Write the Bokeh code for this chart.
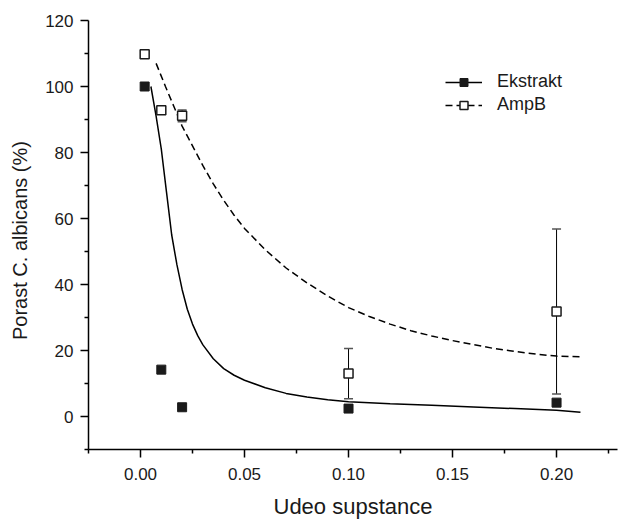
from bokeh.plotting import figure
from bokeh.models import (ColumnDataSource, Whisker, TeeHead, Legend,
                          LegendItem, FixedTicker, PrintfTickFormatter)
from bokeh.embed import file_html
from bokeh.resources import INLINE

# ---- data ----
ext_x = [0.002, 0.01, 0.02, 0.10, 0.20]
ext_y = [100.0, 14.2, 2.8, 2.4, 4.2]

amp_x = [0.002, 0.01, 0.02, 0.10, 0.20]
amp_y = [109.8, 92.8, 91.1, 13.0, 31.8]
amp_err = [0.9, 0.0, 1.8, 7.6, 25.0]

# fitted curves
fit_ext_x = [0.005, 0.0075, 0.01, 0.0125, 0.015, 0.0175, 0.02, 0.0225, 0.025,
             0.0275, 0.03, 0.035, 0.04, 0.045, 0.05, 0.06, 0.07, 0.08, 0.09,
             0.10, 0.12, 0.14, 0.16, 0.18, 0.20, 0.2115]
fit_ext_y = [100.0, 91.0, 81.0, 68.0, 55.0, 46.0, 38.5, 32.5, 28.0,
             24.5, 21.7, 17.5, 14.5, 12.5, 11.0, 8.7, 7.0, 5.9, 5.1,
             4.5, 3.9, 3.4, 2.9, 2.4, 1.9, 1.3]

fit_amp_x = [0.0075, 0.012, 0.016, 0.02, 0.025, 0.03, 0.035, 0.04, 0.045,
             0.05, 0.06, 0.07, 0.08, 0.09, 0.10, 0.11, 0.12, 0.13, 0.14,
             0.15, 0.16, 0.17, 0.18, 0.19, 0.20, 0.2115]
fit_amp_y = [107.0, 100.0, 94.0, 88.0, 82.0, 76.0, 70.5, 65.5, 61.0,
             57.0, 50.5, 45.0, 40.5, 36.5, 33.0, 30.3, 28.0, 26.0, 24.4,
             23.0, 21.8, 20.6, 19.7, 18.9, 18.3, 18.1]

x_ticks = [0.0, 0.05, 0.10, 0.15, 0.20]
x_minor = [-0.025, 0.025, 0.075, 0.125, 0.175, 0.225]
y_ticks = [0, 20, 40, 60, 80, 100, 120]
y_minor = [-10, 10, 30, 50, 70, 90, 110]

FONT = "Liberation Sans"
TXT = "#1a1a1a"

p = figure(width=618, height=521, x_range=(-0.025, 0.2293), y_range=(-10, 120),
           output_backend="svg", toolbar_location=None,
           min_border_left=88, min_border_right=1, min_border_top=20,
           min_border_bottom=69)
p.outline_line_color = None
p.xgrid.visible = False
p.ygrid.visible = False
p.background_fill_color = "white"

for ax in (p.xaxis[0], p.yaxis[0]):
    ax.axis_line_width = 1.5
    ax.axis_line_color = "black"
    ax.major_tick_line_width = 1.5
    ax.minor_tick_line_width = 1.5
    ax.major_tick_line_color = "black"
    ax.minor_tick_line_color = "black"
    ax.major_tick_in = 0
    ax.minor_tick_in = 0
    ax.major_tick_out = 8
    ax.minor_tick_out = 4
    ax.major_label_text_font = FONT
    ax.major_label_text_font_size = "17px"
    ax.major_label_text_color = TXT
    ax.axis_label_text_font = FONT
    ax.axis_label_text_font_style = "normal"
    ax.axis_label_text_color = TXT

p.xaxis.major_label_standoff = 10
p.yaxis.major_label_standoff = 7
p.xaxis.ticker = FixedTicker(ticks=x_ticks, minor_ticks=x_minor)
p.xaxis.formatter = PrintfTickFormatter(format="%.2f")
p.yaxis.ticker = FixedTicker(ticks=y_ticks, minor_ticks=y_minor)

p.xaxis.axis_label = "Udeo supstance"
p.xaxis.axis_label_text_font_size = "22px"
p.xaxis.axis_label_standoff = 11

p.yaxis.axis_label = "Porast  C. albicans  (%)"
p.yaxis.axis_label_text_font_size = "20px"
p.yaxis.axis_label_standoff = 11

# curves
l_ext = p.line(fit_ext_x, fit_ext_y, line_color="black", line_width=1.5)
l_amp = p.line(fit_amp_x, fit_amp_y, line_color="black", line_width=1.5,
               line_dash="7 4")

# error bars
src_amp = ColumnDataSource(data=dict(
    x=amp_x, y=amp_y,
    lo=[y - e for y, e in zip(amp_y, amp_err)],
    hi=[y + e for y, e in zip(amp_y, amp_err)]))
wh = Whisker(source=src_amp, base="x", lower="lo", upper="hi",
             line_color="black", line_width=1,
             upper_head=TeeHead(size=9, line_color="#555555", line_width=1.5),
             lower_head=TeeHead(size=9, line_color="#555555", line_width=1.5))
p.add_layout(wh)

s_ext = p.scatter(ext_x, ext_y, marker="square", size=9,
                  fill_color="#1a1a1a", line_color="#1a1a1a")
s_amp = p.scatter("x", "y", source=src_amp, marker="square", size=9,
                  fill_color="white", line_color="#1a1a1a", line_width=1.5)

legend = Legend(items=[LegendItem(label="Ekstrakt", renderers=[l_ext, s_ext]),
                       LegendItem(label="AmpB", renderers=[l_amp, s_amp])],
                location=(357, 334), border_line_color=None,
                background_fill_alpha=0, padding=0, margin=0, spacing=2,
                glyph_width=37, glyph_height=20, label_height=20,
                label_standoff=15, label_text_font=FONT,
                label_text_font_size="18px", label_text_color=TXT)
p.add_layout(legend)

open("out.html", "w").write(file_html(p, INLINE))
